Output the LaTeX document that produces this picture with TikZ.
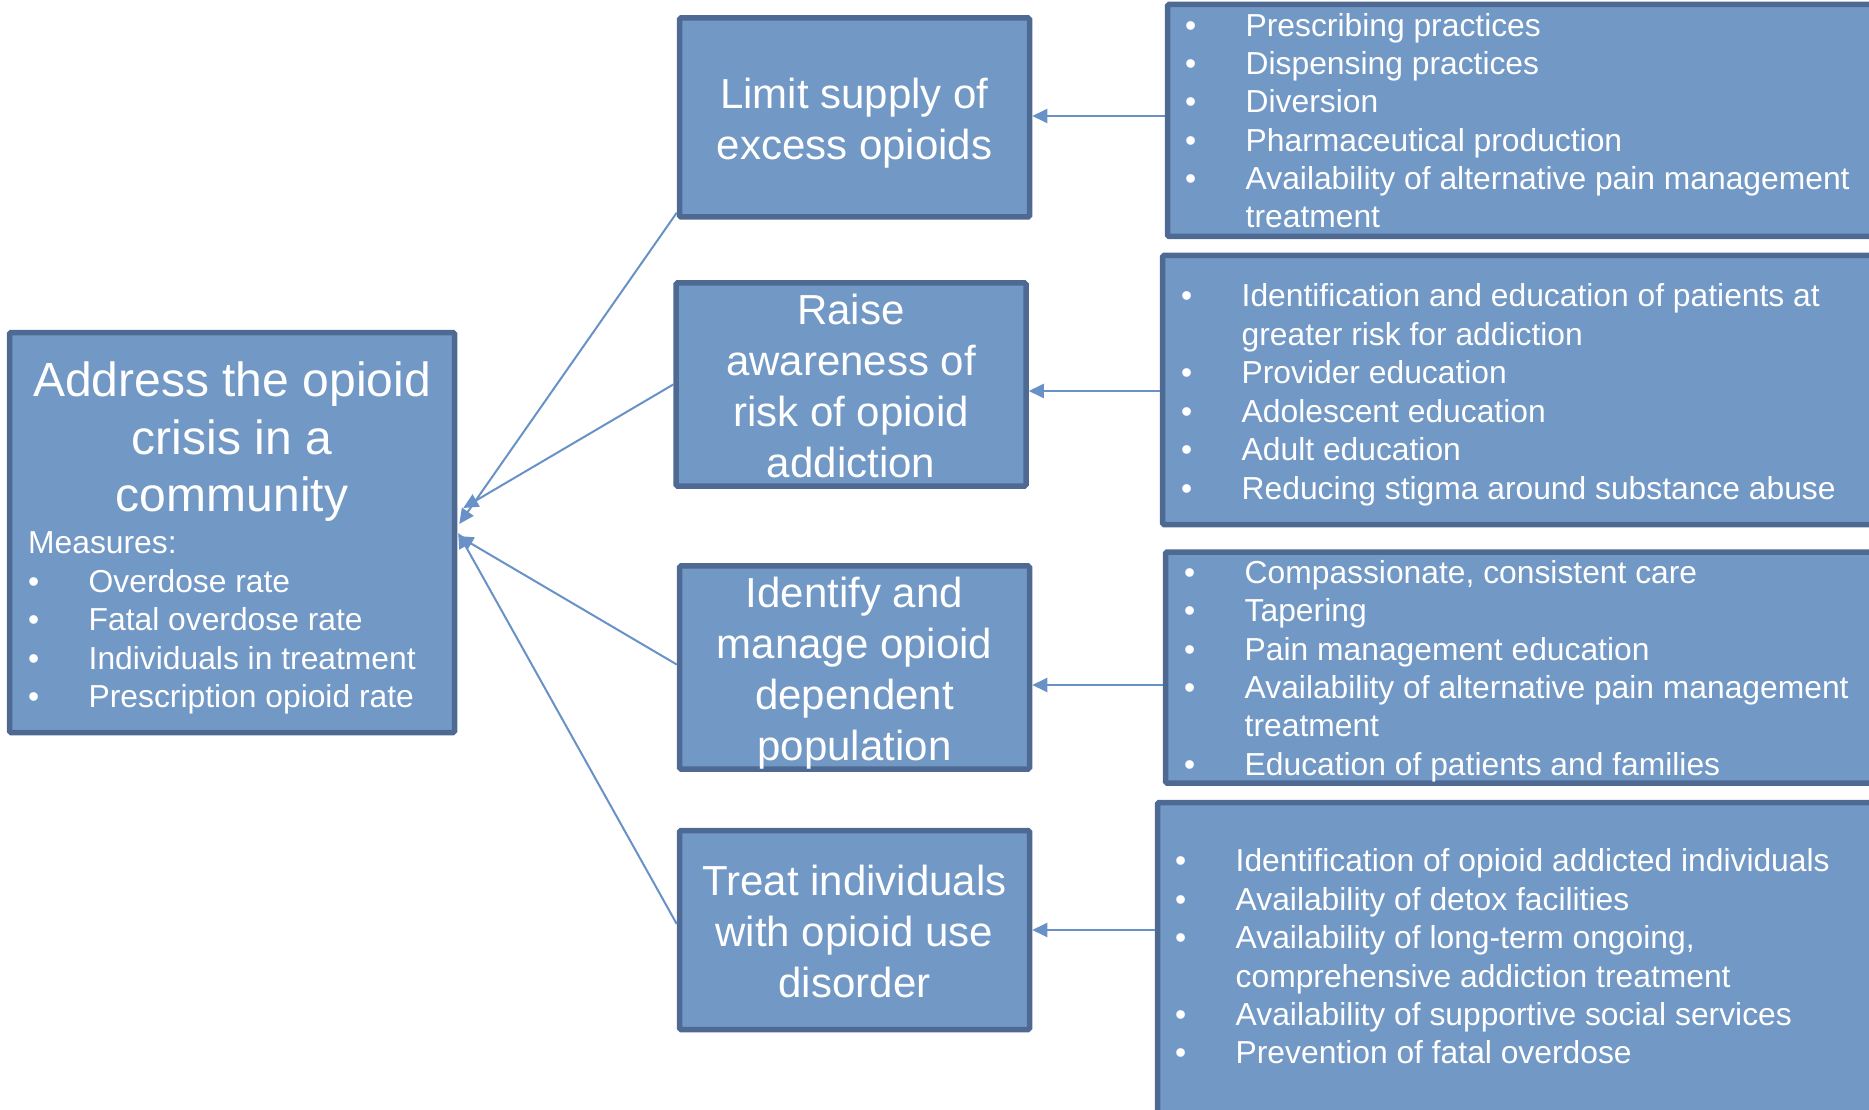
\documentclass[tikz,border=0pt]{standalone}
\usepackage{fontspec}
\setmainfont{Liberation Sans}
\usetikzlibrary{arrows.meta}
\definecolor{boxfill}{RGB}{114,152,198}
\definecolor{boxdraw}{RGB}{78,106,146}
\definecolor{conncol}{RGB}{104,145,200}
\newcommand{\bitem}[1]{\makebox[60.5pt][l]{•}#1}
\newcommand{\bcont}[1]{\hspace*{60.5pt}#1}
\newcommand{\topstrut}{\rule{0pt}{30pt}}
\newcommand{\bfirst}{\rule{0pt}{42pt}}
\newcommand{\blast}{\rule[-9pt]{0pt}{9pt}}
\begin{document}
\begin{tikzpicture}[x=1pt,y=-1pt,
  basebox/.style={draw=boxdraw, fill=boxfill, line width=5.5pt, inner sep=0pt, rounded corners=1.5pt},
  midbox/.style={basebox, text=white, align=center, font=\fontsize{42}{50.7}\selectfont,
    minimum width=350pt, minimum height=199pt},
  txt/.style={text=white, inner sep=0pt, anchor=north west, align=left,
    font=\fontsize{31.8}{38.4}\selectfont},
  conn/.style={draw=conncol, line width=2pt, -{Triangle[length=15pt,width=14pt]}}]
\useasboundingbox (0,0) rectangle (1869,1110);
\clip (0,0) rectangle (1869,1110);

% goal box
\node[basebox, minimum width=445pt, minimum height=400pt] (goal) at (232,532.5) {};

% middle boxes
\node[midbox] (b1) at (854.5,117.5) {\bfirst Limit supply of\\excess opioids\blast};
\node[midbox] (b2) at (851,384.5) {\bfirst Raise\\awareness of\\risk of opioid\\addiction\blast};
\node[midbox] (b3) at (854.5,667.5) {\bfirst Identify and\\manage opioid\\dependent\\population\blast};
\node[midbox] (b4) at (854.5,930) {\bfirst Treat individuals\\with opioid use\\disorder\blast};

% right boxes
\node[basebox, minimum width=730pt, minimum height=232pt] (r1) at (1532.5,120.5) {};
\node[basebox, minimum width=735pt, minimum height=269pt] (r2) at (1530,390) {};
\node[basebox, minimum width=732pt, minimum height=231pt] (r3) at (1531.5,667.5) {};
\node[basebox, minimum width=740pt, minimum height=325pt] (r4) at (1527.5,965) {};

% connectors right -> middle
\draw[conn] (r1.west |- 0,116) -- (b1.east |- 0,116);
\draw[conn] (r2.west |- 0,391) -- (b2.east |- 0,391);
\draw[conn] (r3.west |- 0,685) -- (b3.east |- 0,685);
\draw[conn] (r4.west |- 0,930) -- (b4.east |- 0,930);

% connectors middle -> goal
\draw[conn] ([yshift=7pt]b1.south west) -- ([xshift=2pt,yshift=8.5pt]goal.east);
\draw[conn] (b2.west) -- ([xshift=6pt,yshift=24.5pt]goal.east);
\draw[conn] ([yshift=3pt]b3.west) -- ([xshift=1pt,yshift=-3.5pt]goal.east);
\draw[conn] ([yshift=6pt]b4.west) -- ([xshift=1pt,yshift=-0.5pt]goal.east);

% goal texts
\node[txt, anchor=north, align=center, font=\fontsize{48}{57.5}\selectfont] (goaltitle) at (232,351.7)
  {\rule{0pt}{45pt}Address the opioid\\crisis in a\\community};
\node[txt, font=\fontsize{31.8}{38.5}\selectfont] (goalmeas) at (28,523.3)
  {\topstrut Measures:\\\bitem{Overdose rate}\\\bitem{Fatal overdose rate}\\\bitem{Individuals in treatment}\\\bitem{Prescription opioid rate}};

% right texts
\node[txt, font=\fontsize{31.8}{38.3}\selectfont] (r1t) at (1185,6)
  {\topstrut\bitem{Prescribing practices}\\\bitem{Dispensing practices}\\\bitem{Diversion}\\\bitem{Pharmaceutical production}\\\bitem{Availability of alternative pain management}\\\bcont{treatment}};
\node[txt, font=\fontsize{31.8}{38.5}\selectfont] (r2t) at (1181,276.7)
  {\topstrut\bitem{Identification and education of patients at}\\\bcont{greater risk for addiction}\\\bitem{Provider education}\\\bitem{Adolescent education}\\\bitem{Adult education}\\\bitem{Reducing stigma around substance abuse}};
\node[txt, font=\fontsize{31.8}{38.4}\selectfont] (r3t) at (1184,553)
  {\topstrut\bitem{Compassionate, consistent care}\\\bitem{Tapering}\\\bitem{Pain management education}\\\bitem{Availability of alternative pain management}\\\bcont{treatment}\\\bitem{Education of patients and families}};
\node[txt, font=\fontsize{31.8}{38.4}\selectfont] (r4t) at (1175,841.6)
  {\topstrut\bitem{Identification of opioid addicted individuals}\\\bitem{Availability of detox facilities}\\\bitem{Availability of long-term ongoing,}\\\bcont{comprehensive addiction treatment}\\\bitem{Availability of supportive social services}\\\bitem{Prevention of fatal overdose}};
\end{tikzpicture}
\end{document}
